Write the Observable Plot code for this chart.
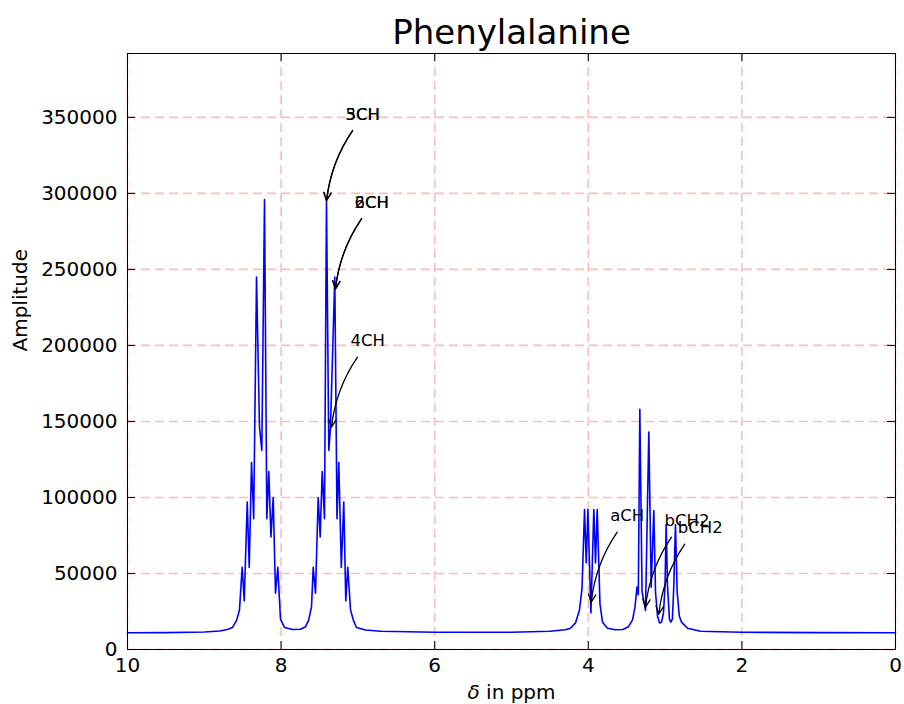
<!DOCTYPE html>
<html>
<head>
<meta charset="utf-8">
<script src="https://cdn.jsdelivr.net/npm/d3@7"></script>
<script src="https://cdn.jsdelivr.net/npm/@observablehq/plot@0.6"></script>
<style>
  html, body { margin: 0; padding: 0; background: #ffffff; }
  #chart svg { display: block; }
</style>
</head>
<body>
<div id="chart"></div>
<script>
// ---- data ----
const ppm = [
  10.00, 9.50, 9.00, 8.80, 8.70, 8.633, 8.581, 8.542,
  8.507, 8.480, 8.441, 8.415, 8.385, 8.357, 8.320, 8.281, 8.251, 8.216,
  8.186, 8.160, 8.132, 8.103, 8.073, 8.043, 8.008, 7.956,
  7.85, 7.75, 7.682, 7.643, 7.604,
  7.582, 7.552, 7.517, 7.491, 7.465, 7.435, 7.409, 7.379, 7.357, 7.301,
  7.272, 7.249, 7.216, 7.184, 7.158, 7.132, 7.096, 7.057, 7.018,
  6.90, 6.70, 6.00, 5.00, 4.50, 4.30, 4.232, 4.167, 4.115, 4.082,
  4.049, 4.027, 4.005, 3.966, 3.928, 3.906, 3.884, 3.848, 3.815, 3.750,
  3.650, 3.550, 3.477, 3.424, 3.392, 3.366, 3.349, 3.329, 3.300, 3.255,
  3.212, 3.181, 3.147, 3.125, 3.099, 3.073, 3.047, 3.021, 3.001, 2.986,
  2.969, 2.943, 2.926, 2.905, 2.888, 2.865, 2.843, 2.815, 2.786, 2.708,
  2.539, 2.00, 1.00, 0.00
];
const amplitude = [
  11000, 11100, 11500, 12200, 13200, 14500, 19000, 26000,
  54000, 32000, 97000, 54000, 123000, 86000, 245000, 146000, 131000, 296000,
  86000, 117000, 74000, 100000, 37000, 54000, 20000, 14500,
  13200, 13300, 15000, 19000, 28000,
  54000, 37000, 100000, 74000, 117000, 86000, 296000, 131000, 146000, 245000,
  86000, 123000, 54000, 97000, 32000, 54000, 26000, 19000, 14500,
  12800, 12000, 11300, 11300, 12000, 13000, 14000, 17500, 26000, 40000,
  92000, 57000, 92000, 24000, 92000, 57000, 92000, 30000, 18000, 14000,
  13000, 13200, 15000, 19500, 28000, 41000, 36000, 158000, 38000, 25700,
  143000, 41000, 91400, 38000, 22000, 17500, 18000, 24000, 42000, 82000,
  42000, 20000, 18000, 20000, 40000, 82000, 38000, 22000, 18000, 14000,
  12000, 11300, 11100, 11000
];

const xTicks = [10, 8, 6, 4, 2, 0];
const yTicks = [0, 50000, 100000, 150000, 200000, 250000, 300000, 350000];

const noteLabels = ["3CH", "5CH", "2CH", "6CH", "4CH", "aCH", "bCH2", "bCH2"];
const notePpm    = [7.408, 7.408, 7.292, 7.292, 7.344, 3.962, 3.255, 3.082];
const noteAmp    = [295300, 295300, 237200, 237200, 146200, 31100, 27800, 23200];

const titleText = "Phenylalanine";
const xLabelText = "δ in ppm";
const yLabelText = "Amplitude";

// ---- build ----
const spectrum = ppm.map((x, i) => ({x, y: amplitude[i]}));
const notes = noteLabels.map((label, i) => ({label, x: notePpm[i], y: noteAmp[i]}));

const W = 904, H = 704;
const M = {top: 53, right: 9, bottom: 55, left: 127};
const frameW = W - M.left - M.right;
const frameH = H - M.top - M.bottom;
const tickLen = 8;
const font = "'DejaVu Sans', 'Liberation Sans', sans-serif";
const gridStyle = {stroke: "#ffbcbc", strokeOpacity: 1, strokeWidth: 1.6, strokeDasharray: "9,5"};

function build(extra) {
  return Plot.plot({
    width: W,
    height: H,
    marginTop: M.top,
    marginRight: M.right,
    marginBottom: M.bottom,
    marginLeft: M.left,
    style: {fontFamily: font, fontSize: "20px", background: "#ffffff", color: "#000000", overflow: "visible"},
    x: {domain: [10, 0]},
    y: {domain: [0, 392000]},
    marks: [
      Plot.gridX({ticks: xTicks, ...gridStyle}),
      Plot.gridY({ticks: yTicks, ...gridStyle}),
      Plot.line(spectrum, {x: "x", y: "y", stroke: "#0000ff", strokeWidth: 1.6}),
      Plot.frame({stroke: "#000000", strokeWidth: 1}),
      Plot.tickX(xTicks, {x: d => d, insetTop: frameH - tickLen, stroke: "#000"}),
      Plot.tickX(xTicks, {x: d => d, insetBottom: frameH - tickLen, stroke: "#000"}),
      Plot.tickY(yTicks, {y: d => d, insetRight: frameW - tickLen, stroke: "#000"}),
      Plot.tickY(yTicks, {y: d => d, insetLeft: frameW - tickLen, stroke: "#000"}),
      Plot.axisX({ticks: xTicks, tickSize: 0, tickPadding: 8, tickFormat: d => String(d), label: null, fontSize: 20}),
      Plot.axisY({ticks: yTicks, tickSize: 0, tickPadding: 10, tickFormat: d => String(d), label: null, fontSize: 20}),
      Plot.text([titleText], {text: d => d, frameAnchor: "top", dy: -10, lineAnchor: "bottom", fontSize: 34}),
      Plot.text([xLabelText], {text: d => d, frameAnchor: "bottom", dy: 49, lineAnchor: "bottom", fontSize: 20}),
      Plot.text([yLabelText], {text: d => d, frameAnchor: "left", dx: -107, rotate: -90, lineAnchor: "middle", fontSize: 20}),
      ...extra
    ]
  });
}

const probe = build([]);
const sx = probe.scale("x");
const sy = probe.scale("y");

const annotationMarks = [
  Plot.arrow(notes, {
    x1: d => sx.invert(sx.apply(d.x) + 26),
    y1: d => sy.invert(sy.apply(d.y) - 70),
    x2: "x", y2: "y",
    bend: -14, stroke: "#000", strokeWidth: 1.3, headLength: 10, headAngle: 50
  }),
  Plot.text(notes, {x: "x", y: "y", text: "label", dx: 19, dy: -81, textAnchor: "start", lineAnchor: "bottom", fontSize: 16.5, fill: "#000"})
];

const chart = build(annotationMarks);
document.getElementById("chart").appendChild(chart);

// italic delta in the x-axis label
const xl = Array.from(chart.querySelectorAll("text")).find(t => t.textContent === xLabelText);
if (xl) {
  xl.textContent = "";
  const ns = "http://www.w3.org/2000/svg";
  const t1 = document.createElementNS(ns, "tspan");
  t1.setAttribute("style", "font-style: italic");
  t1.textContent = "δ";
  const t2 = document.createElementNS(ns, "tspan");
  t2.textContent = " in ppm";
  xl.appendChild(t1);
  xl.appendChild(t2);
}
</script>
</body>
</html>
